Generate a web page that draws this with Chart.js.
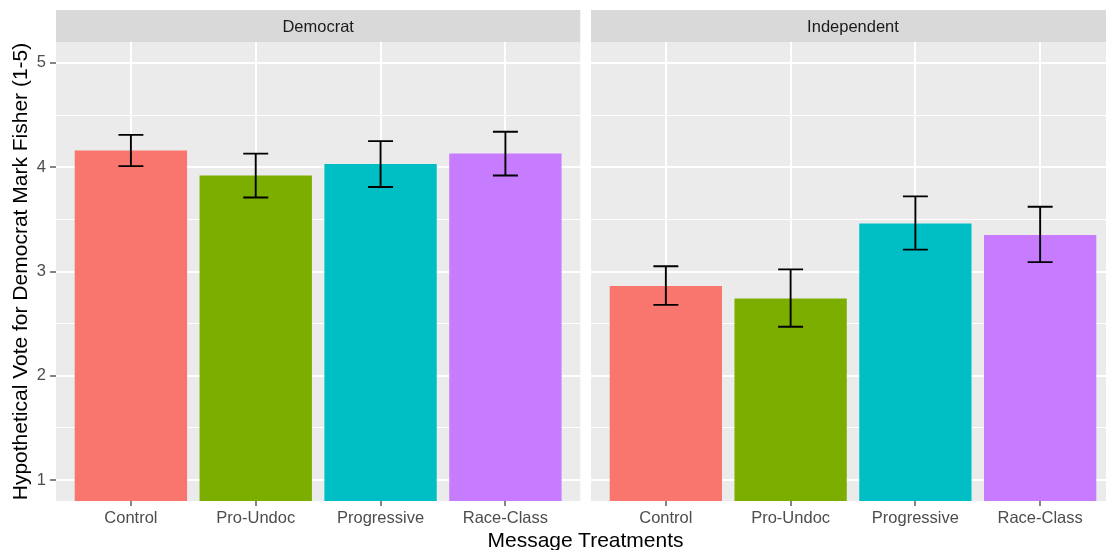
<!DOCTYPE html>
<html>
<head>
<meta charset="utf-8">
<script src="https://cdn.jsdelivr.net/npm/chart.js@4.4.1/dist/chart.umd.min.js"></script>
<style>
  html, body { margin: 0; padding: 0; background: #fff; }
  body { position: relative; width: 1106px; height: 550px; overflow: hidden; font-family: "Liberation Sans", Arial, sans-serif; }
  #dem { position: absolute; left: 0; top: 0; }
  #ind { position: absolute; left: 585px; top: 0; }
  #xtitle { position: absolute; left: 0; width: 1171px; top: 529px; text-align: center; font-size: 21px; line-height: 21px; color: #000; white-space: nowrap; }
</style>
</head>
<body>
<canvas id="dem" width="585" height="550"></canvas>
<canvas id="ind" width="540" height="550"></canvas>
<div id="xtitle">Message Treatments</div>
<script>
// Message treatments shown in each panel
const categories = ['Control', 'Pro-Undoc', 'Progressive', 'Race-Class'];

// Democrat respondents: mean rating and interval bounds
const demMeans = [4.16, 3.92, 4.03, 4.13];
const demLower = [4.01, 3.71, 3.81, 3.92];
const demUpper = [4.31, 4.13, 4.25, 4.34];

// Independent respondents: mean rating and interval bounds
const indMeans = [2.86, 2.74, 3.46, 3.35];
const indLower = [2.68, 2.47, 3.21, 3.09];
const indUpper = [3.05, 3.02, 3.72, 3.62];

// Panel titles and y-axis tick values
const panelLabels = ['Democrat', 'Independent'];
const yTicks = [1, 2, 3, 4, 5];

const fills = ['#F8766D', '#7CAE00', '#00BFC4', '#C77CFF'];
const FONT = '"Liberation Sans", Arial, sans-serif';

// Grey panel background plus the facet strip above it
const stripPlugin = {
  id: 'strip',
  beforeDraw(chart, args, opts) {
    const { ctx, chartArea: a } = chart;
    ctx.save();
    ctx.fillStyle = '#EBEBEB';
    ctx.fillRect(a.left, a.top, a.right - a.left, a.bottom - a.top);
    ctx.fillStyle = '#D9D9D9';
    ctx.fillRect(a.left, 10, a.right - a.left, a.top - 10);
    ctx.fillStyle = '#1A1A1A';
    ctx.font = '16.5px ' + FONT;
    ctx.textAlign = 'center';
    ctx.textBaseline = 'middle';
    ctx.fillText(opts.label, (a.left + a.right) / 2, (10 + a.top) / 2 + 1);
    ctx.restore();
  }
};

// Interval whiskers with caps, placed through the chart scales
const errorBarPlugin = {
  id: 'errorBars',
  afterDatasetsDraw(chart, args, opts) {
    const { ctx } = chart;
    const x = chart.scales.x, y = chart.scales.y;
    ctx.save();
    ctx.strokeStyle = '#000';
    ctx.lineWidth = 1.9;
    opts.lower.forEach((lo, i) => {
      const hi = opts.upper[i];
      const cx = x.getPixelForValue(i);
      const xl = x.getPixelForValue(i - 0.1);
      const xr = x.getPixelForValue(i + 0.1);
      const yl = y.getPixelForValue(lo);
      const yh = y.getPixelForValue(hi);
      ctx.beginPath();
      ctx.moveTo(cx, yl); ctx.lineTo(cx, yh);
      ctx.moveTo(xl, yl); ctx.lineTo(xr, yl);
      ctx.moveTo(xl, yh); ctx.lineTo(xr, yh);
      ctx.stroke();
    });
    ctx.restore();
  }
};

function majorMinorTicks() {
  const out = [];
  yTicks.forEach((v, i) => {
    out.push({ value: v });
    if (i < yTicks.length - 1) out.push({ value: v + 0.5 });
  });
  return out;
}

function makePanel(canvasId, label, means, lower, upper, showY) {
  const isMajor = c => c.tick && Number.isInteger(c.tick.value);
  return new Chart(document.getElementById(canvasId), {
    type: 'bar',
    data: {
      datasets: [{
        data: means.map((v, i) => ({ x: i, y: v })),
        backgroundColor: fills,
        borderWidth: 0,
        barPercentage: 0.9,
        categoryPercentage: 1.0
      }]
    },
    plugins: [stripPlugin, errorBarPlugin],
    options: {
      responsive: false,
      animation: false,
      devicePixelRatio: 1,
      layout: { padding: showY ? { top: 42, right: 4.7, left: 0, bottom: 0 } : { top: 42, right: 10, left: 6, bottom: 0 } },
      plugins: {
        legend: { display: false },
        tooltip: { enabled: false },
        strip: { label: label },
        errorBars: { lower: lower, upper: upper }
      },
      scales: {
        x: {
          type: 'linear',
          min: -0.6,
          max: 3.6,
          offset: false,
          afterBuildTicks: s => { s.ticks = categories.map((c, i) => ({ value: i })); },
          afterFit: s => { s.height = 49; },
          ticks: {
            callback: v => categories[v],
            font: { family: FONT, size: 16.5 },
            color: '#4D4D4D',
            padding: 3,
            maxRotation: 0,
            autoSkip: false
          },
          grid: {
            offset: false,
            color: '#FFFFFF',
            lineWidth: 2,
            drawTicks: true,
            tickLength: 5,
            tickColor: '#333333',
            tickWidth: 1.2
          },
          border: { display: false }
        },
        y: {
          min: 0.8,
          max: 5.2,
          afterBuildTicks: s => { s.ticks = majorMinorTicks(); },
          afterFit: s => { s.width = showY ? 56 : 0; },
          ticks: {
            display: showY,
            callback: v => (Number.isInteger(v) ? String(v) : ''),
            font: { family: FONT, size: 16.5 },
            color: '#4D4D4D',
            padding: 4
          },
          grid: {
            color: '#FFFFFF',
            lineWidth: c => (isMajor(c) ? 2 : 1),
            drawTicks: showY,
            tickLength: 6,
            tickColor: c => (isMajor(c) ? '#333333' : 'rgba(0,0,0,0)'),
            tickWidth: 1.2
          },
          border: { display: false },
          title: {
            display: showY,
            text: 'Hypothetical Vote for Democrat Mark Fisher (1-5)',
            font: { family: FONT, size: 21 },
            color: '#000',
            padding: { top: 9, bottom: 0 }
          }
        }
      }
    }
  });
}

makePanel('dem', panelLabels[0], demMeans, demLower, demUpper, true);
makePanel('ind', panelLabels[1], indMeans, indLower, indUpper, false);
</script>
</body>
</html>
